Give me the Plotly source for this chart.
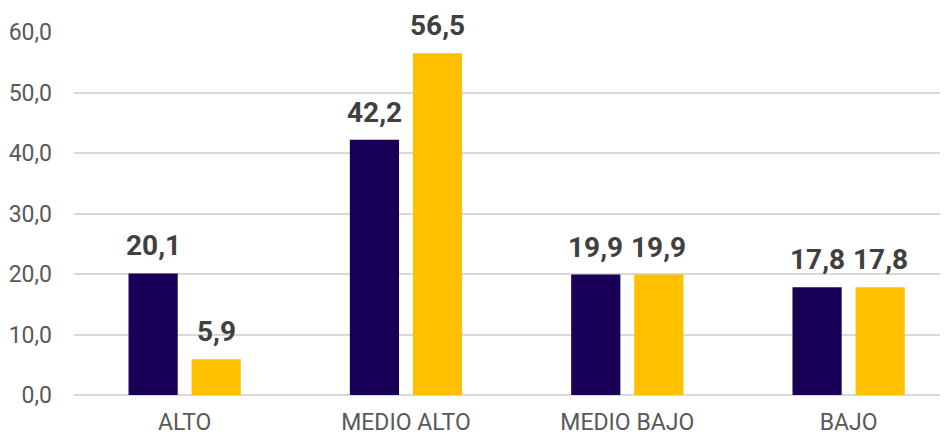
import plotly.graph_objects as go

categories = ['ALTO', 'MEDIO ALTO', 'MEDIO BAJO', 'BAJO']
serie_1 = [20.1, 42.2, 19.9, 17.8]
serie_2 = [5.9, 56.5, 19.9, 17.8]
y_ticks = [0, 10, 20, 30, 40, 50, 60]

fig = go.Figure()

series = [(serie_1, '#170055', -31.5), (serie_2, '#FFC000', 31.5)]

for vals, color, shift in series:
    fig.add_trace(go.Bar(
        x=categories,
        y=vals,
        marker=dict(color=color, line=dict(width=0)),
        hoverinfo='x+y',
    ))
    # etiquetas de datos
    for cat, v in zip(categories, vals):
        fig.add_annotation(
            x=cat, y=v,
            text=f'{v:.1f}'.replace('.', ','),
            showarrow=False,
            xshift=shift,
            yanchor='bottom',
            yshift=9,
            font=dict(family='Roboto', size=28, color='#404040', weight='bold'),
        )

fig.update_layout(
    width=948,
    height=436,
    margin=dict(l=66, r=8, t=24, b=49),
    plot_bgcolor='white',
    paper_bgcolor='white',
    separators=',.',
    showlegend=False,
    barmode='group',
    bargap=0.43,
    bargroupgap=0.22,
    font=dict(family='Roboto', size=23, color='#595959'),
    xaxis=dict(
        range=[-0.5, 3.449],
        showgrid=False,
        showline=False,
        ticks='',
        automargin=False,
        ticklabelstandoff=11,
        tickfont=dict(size=23, color='#595959'),
    ),
    yaxis=dict(
        range=[0, 60],
        tickvals=y_ticks,
        tickformat='.1f',
        showgrid=True,
        gridcolor='#d9d9d9',
        gridwidth=1.5,
        zeroline=True,
        zerolinecolor='#d9d9d9',
        zerolinewidth=1.5,
        showline=False,
        ticks='',
        automargin=False,
        ticklabelstandoff=21,
        tickfont=dict(size=23, color='#595959'),
    ),
)

fig.write_html('out.html')
